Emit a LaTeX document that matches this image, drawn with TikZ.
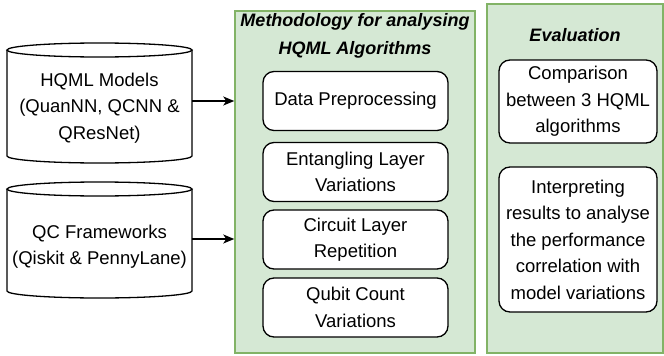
\documentclass[tikz,border=0pt]{standalone}
\usepackage{fontspec}
\setmainfont{Liberation Sans}
\usetikzlibrary{arrows.meta}

\definecolor{groupfill}{HTML}{D5E8D4}
\definecolor{groupline}{HTML}{82B366}

\tikzset{
    group/.style={draw=groupline, fill=groupfill, line width=1.5pt, inner sep=0pt},
    stage/.style={draw, fill=white, line width=1.3pt, rounded corners=11pt, align=center,
        inner sep=0pt, font=\fontsize{18.5}{26.5}\selectfont},
    dbline/.style={draw, fill=white, line width=1.3pt},
    dbtext/.style={align=center, font=\fontsize{18.5}{26.5}\selectfont},
    grouptitle/.style={align=center, font=\fontsize{18}{28}\selectfont\bfseries\itshape},
    flow/.style={-{Stealth[length=11pt, width=9pt, inset=3pt]}, line width=1.3pt},
}

\begin{document}
\begin{tikzpicture}[x=1pt, y=1pt]

        \useasboundingbox (0,0) rectangle (664,-356);

        \def\dbleft{7}
        \def\dbright{192}
        \def\dbrx{92.5}
        \def\dbry{7}

        \draw[dbline] (\dbleft,-50) -- (\dbleft,-156) arc[start angle=180, end angle=360, x radius=\dbrx, y radius=\dbry] -- (\dbright,-50);
        \draw[dbline] (\dbleft+\dbrx,-50) ellipse[x radius=\dbrx, y radius=\dbry];
        \node[dbtext] (models) at (\dbleft+\dbrx,-108) {HQML Models\\(QuanNN, QCNN \&\\QResNet)};

        \draw[dbline] (\dbleft,-189) -- (\dbleft,-291) arc[start angle=180, end angle=360, x radius=\dbrx, y radius=\dbry] -- (\dbright,-189);
        \draw[dbline] (\dbleft+\dbrx,-189) ellipse[x radius=\dbrx, y radius=\dbry];
        \node[dbtext] (frameworks) at (\dbleft+\dbrx,-246.5) {QC Frameworks\\(Qiskit \& PennyLane)};

        \node[group, minimum width=240pt, minimum height=342pt] (meth) at (355,-182) {};
        \node[group, minimum width=176pt, minimum height=349pt] (eval) at (575,-178.5) {};

        \node[grouptitle] (methtitle) at (355,-36) {Methodology for analysing\\HQML Algorithms};
        \node[grouptitle] (evaltitle) at (575,-35) {Evaluation};

        \foreach \name/\y/\txt in {prep/101/{Data Preprocessing}, entangle/172/{Entangling Layer\\Variations},
                circuit/239.5/{Circuit Layer\\Repetition}, qubits/307.5/{Qubit Count\\Variations}} {
                \node[stage, minimum width=185pt, minimum height=59pt] (\name) at (355.5,-\y) {\txt};
            }

        \node[stage, minimum width=158pt, minimum height=83pt] (compare) at (578,-101.5) {Comparison\\between 3 HQML\\algorithms};
        \node[stage, minimum width=158pt, minimum height=145pt] (interpret) at (578,-239.5) {Interpreting\\results to analyse\\the performance\\correlation with\\model variations};

        \coordinate (models-out) at (\dbright,-101);
        \coordinate (frameworks-out) at (\dbright,-239);
        \draw[flow] (models-out) -- (models-out -| meth.west);
        \draw[flow] (frameworks-out) -- (frameworks-out -| meth.west);

    \end{tikzpicture}
\end{document}
